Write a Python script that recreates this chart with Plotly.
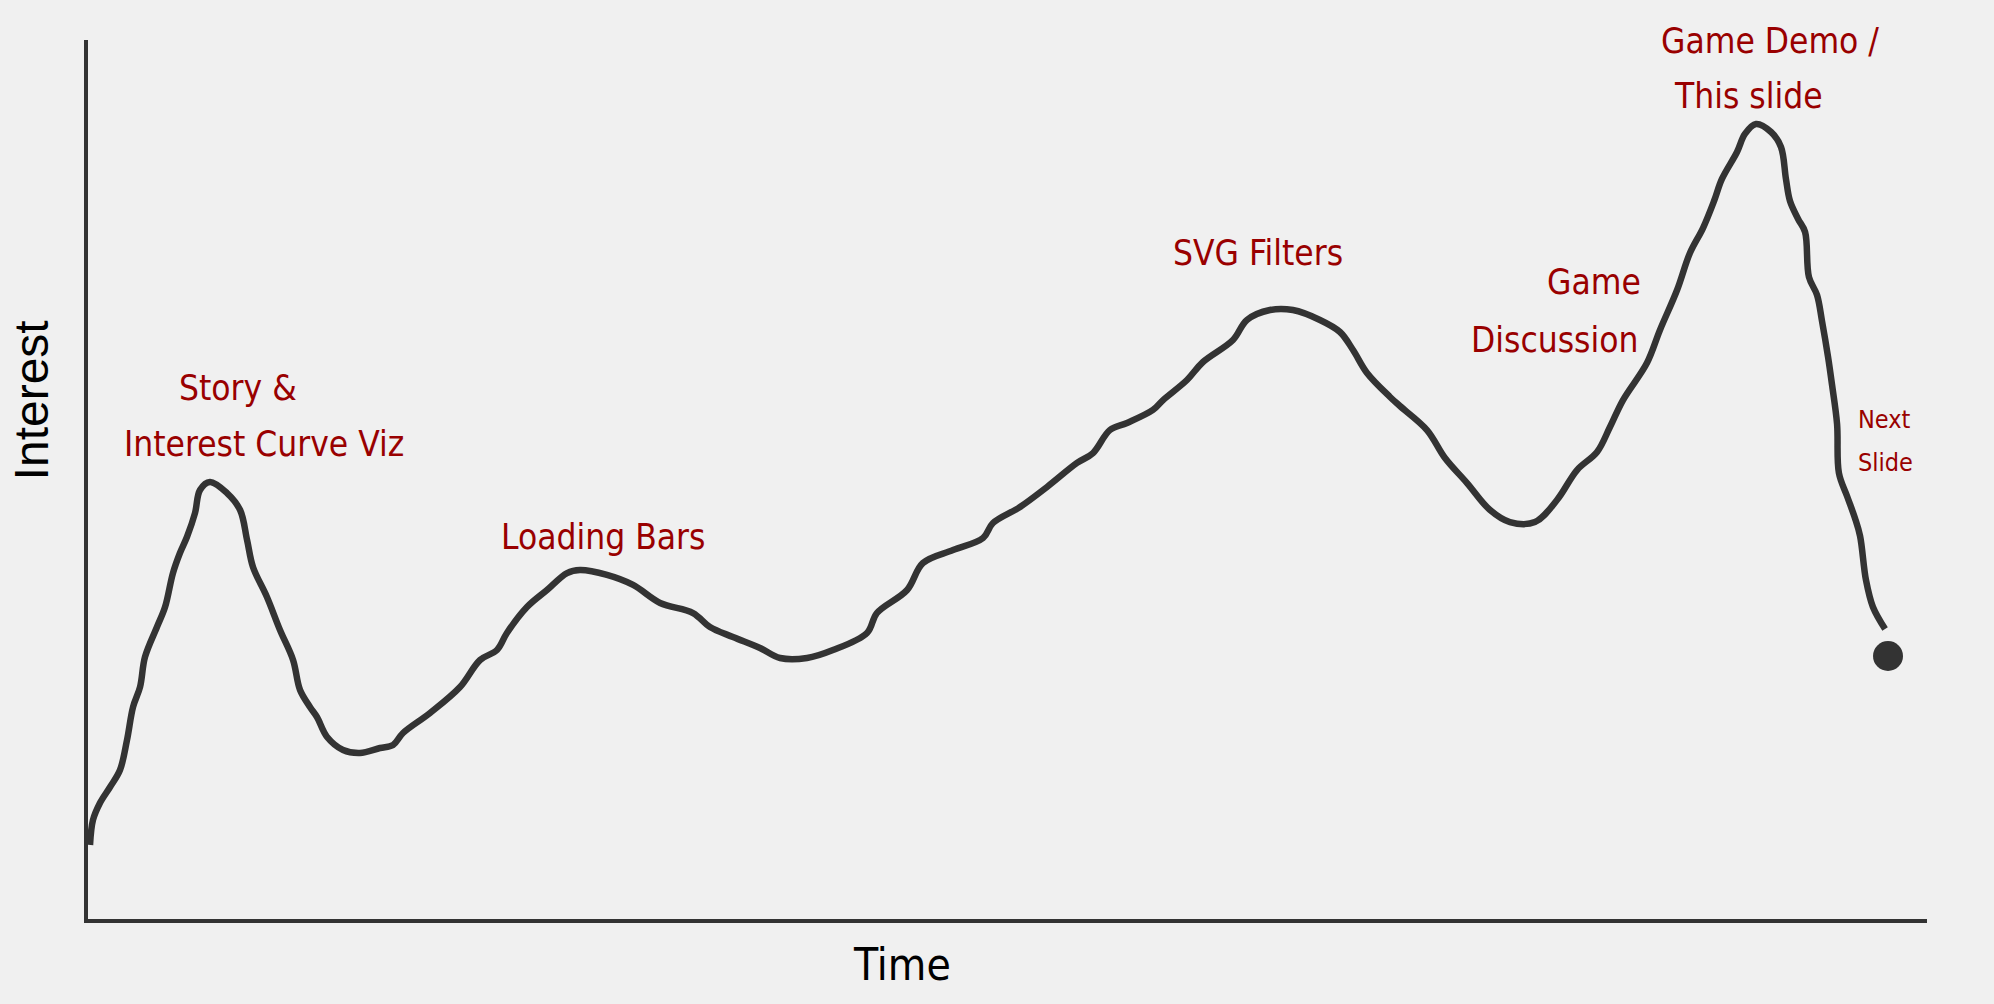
import plotly.graph_objects as go

# Interest curve (time 0-100, interest 0-100)
time = [0.11, 0.27, 0.65, 1.20, 1.74, 2.12, 2.45, 2.83, 3.10, 3.75, 4.19, 4.62, 5.00, 5.38, 5.82, 6.09, 6.63,
        7.56, 8.27, 8.65, 8.97, 9.73, 10.44, 11.15, 11.53, 12.07, 12.45, 13.00, 13.87, 14.79, 15.88, 16.59,
        17.13, 18.60, 20.23, 21.32, 22.24, 22.78, 23.87, 24.96, 26.05, 26.75, 28.22, 29.64, 31.11, 32.90,
        33.82, 35.07, 36.54, 37.63, 39.10, 40.51, 42.36, 42.90, 44.54, 45.40, 47.04, 48.67, 49.21, 50.68,
        52.15, 53.78, 54.65, 55.57, 56.50, 57.91, 58.46, 59.76, 60.63, 62.26, 63.02, 64.27, 65.52, 66.99,
        68.08, 68.79, 69.55, 70.80, 71.34, 72.81, 73.79, 74.99, 76.24, 77.32, 78.68, 79.88, 80.97, 82.06,
        82.76, 83.47, 84.77, 85.48, 86.41, 87.11, 87.82, 88.42, 88.85, 89.67, 90.10, 90.70, 91.52, 92.06,
        92.33, 92.55, 92.99, 93.37, 93.58, 94.02, 94.29, 94.62, 94.83, 95.11, 95.21, 95.65, 96.08, 96.36,
        96.68, 97.06, 97.72]
interest = [8.42, 11.26, 13.20, 15.02, 16.95, 20.36, 24.12, 26.39, 29.81, 33.22, 35.49, 39.36, 41.64, 43.46,
            46.19, 48.81, 49.72, 48.46, 46.53, 43.12, 40.05, 36.63, 32.88, 29.47, 26.05, 24.12, 22.98, 20.71,
            19.23, 18.89, 19.45, 19.80, 21.16, 23.44, 26.39, 29.47, 30.60, 32.54, 35.49, 37.43, 39.36, 39.70,
            39.14, 38.00, 35.95, 34.81, 33.22, 32.08, 30.83, 29.69, 29.69, 30.60, 32.54, 34.81, 37.43, 40.50,
            41.98, 43.34, 45.05, 46.87, 49.15, 51.88, 53.01, 55.63, 56.43, 57.91, 59.04, 61.32, 63.37, 65.87,
            68.15, 69.28, 69.28, 68.15, 66.78, 64.73, 62.12, 59.39, 58.36, 55.63, 52.45, 49.60, 46.53, 45.16,
            45.16, 47.67, 51.08, 53.13, 55.97, 59.04, 63.25, 67.01, 71.56, 75.77, 78.61, 81.68, 84.19, 87.26,
            89.31, 90.44, 89.53, 87.83, 84.19, 81.68, 79.64, 78.16, 73.04, 70.99, 68.03, 63.94, 60.86, 56.31,
            50.74, 48.12, 45.62, 43.57, 38.57, 35.49, 32.99]

# "Now" marker at the end of the curve
now_time = [97.88]
now_interest = [29.92]

# Label lines (text) and where each line sits (time, interest)
label_lines = ["Story &", "Interest Curve Viz", "Loading Bars", "SVG Filters", "Game", "Discussion",
               "Game Demo /", "This slide", "Next", "Slide"]
label_time = [8.16, 9.57, 28.00, 63.62, 84.56, 84.39, 91.46, 90.27, 96.14, 96.14]
label_interest = [57.9, 51.5, 41.0, 73.3, 70.0, 63.4, 97.4, 91.1, 54.9, 50.1]

x_title = "Time"
y_title = "Interest"

BG = "#f0f0f0"
INK = "#333333"
RED = "#990000"
NARROW = "DejaVu Sans Condensed, Liberation Sans Narrow, sans-serif"

fig = go.Figure()
fig.add_trace(go.Scatter(x=time, y=interest, mode="lines",
                         line=dict(color=INK, width=6.5, shape="spline", smoothing=1.0),
                         hoverinfo="skip", showlegend=False))
fig.add_trace(go.Scatter(x=now_time, y=now_interest, mode="markers",
                         marker=dict(color=INK, size=30), hoverinfo="skip", showlegend=False))

anchors = ["center", "center", "center", "center", "right", "right", "center", "center", "left", "left"]
sizes = [35, 35, 35, 35, 35, 35, 35, 35, 25, 25]
for t, xv, yv, xa, fs in zip(label_lines, label_time, label_interest, anchors, sizes):
    fig.add_annotation(x=xv, y=yv, xref="x", yref="y", text=t, showarrow=False,
                       xanchor=xa, yanchor="bottom",
                       font=dict(family=NARROW, size=fs, color=RED))

fig.add_annotation(x=44.29, y=-0.083, xref="x", yref="paper", text=x_title, showarrow=False,
                   xanchor="center", yanchor="bottom",
                   font=dict(family=NARROW, size=44, color="#000000"))
fig.add_annotation(x=-0.031, y=0.59, xref="paper", yref="paper", text=y_title, showarrow=False,
                   textangle=-90, xanchor="center", yanchor="middle",
                   font=dict(family="Liberation Sans, Arial, sans-serif", size=48, color="#000000"))

fig.update_layout(
    width=1994, height=1004,
    paper_bgcolor=BG, plot_bgcolor=BG,
    margin=dict(l=88, r=67, t=40, b=85),
    xaxis=dict(range=[0, 100], showgrid=False, zeroline=False, showticklabels=False, ticks="",
               showline=True, linecolor=INK, linewidth=4),
    yaxis=dict(range=[0, 100], showgrid=False, zeroline=False, showticklabels=False, ticks="",
               showline=True, linecolor=INK, linewidth=4),
)

fig.write_html("out.html")
